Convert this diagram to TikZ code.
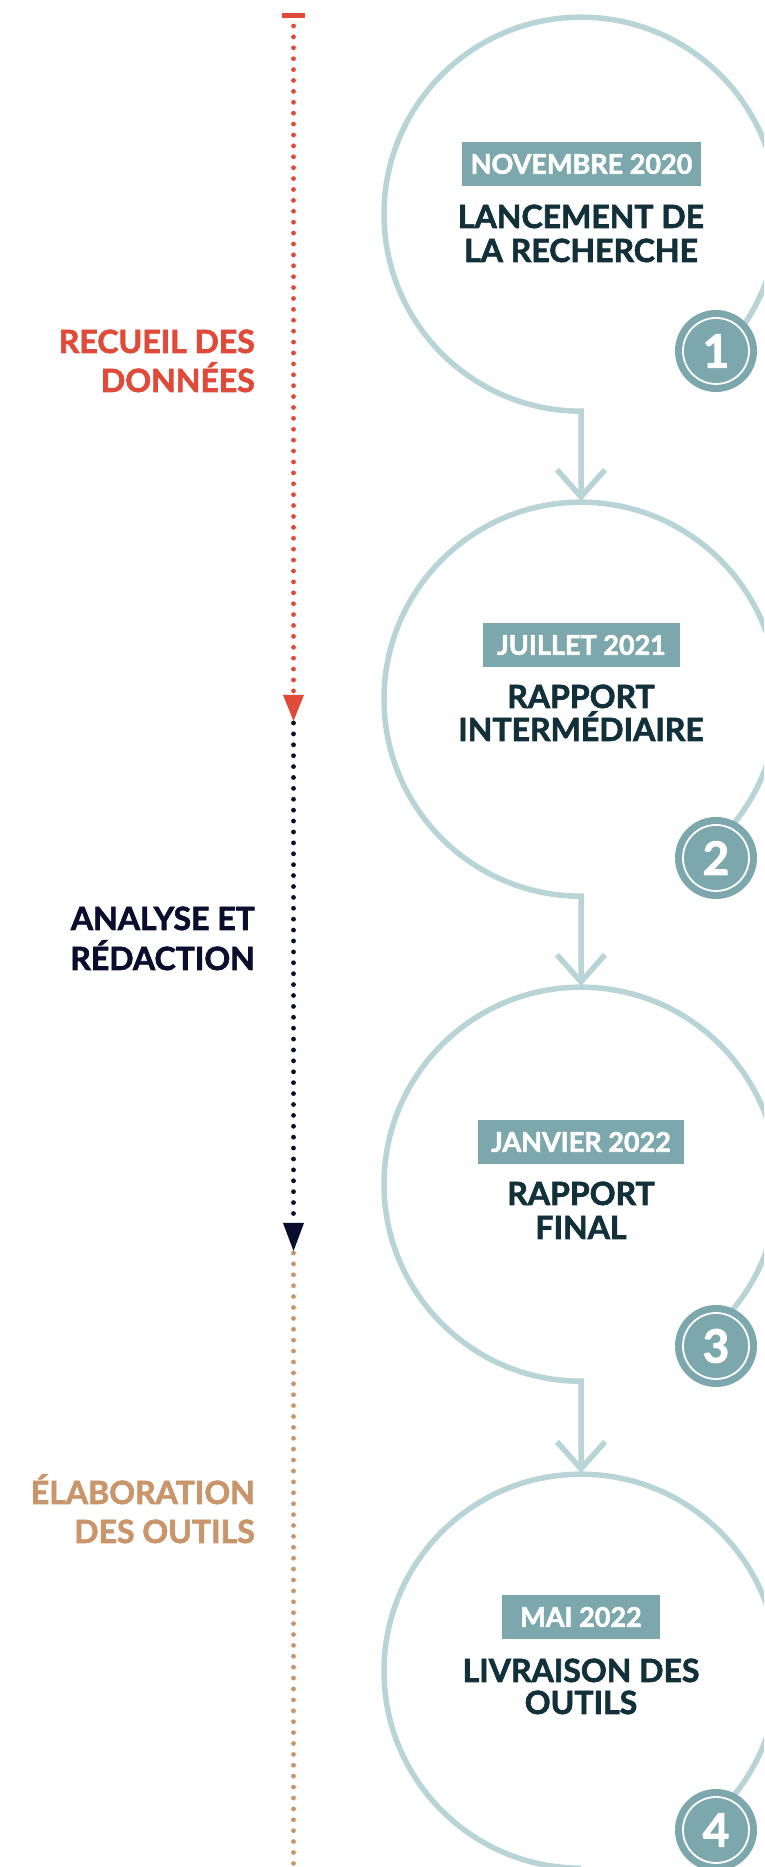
\documentclass[tikz,border=0pt]{standalone}
\usepackage{fontspec}
\setmainfont{Lato}[BoldFeatures={FakeBold=2}]
\usetikzlibrary{calc}
\definecolor{ringc}{HTML}{B8D4D7}
\definecolor{tealc}{HTML}{7CA8AD}
\definecolor{darkc}{HTML}{12303A}
\definecolor{redc}{HTML}{E04A38}
\definecolor{navyc}{HTML}{0A0E2E}
\definecolor{tanc}{HTML}{C9956A}
\tikzset{
  ringline/.style={draw=ringc, line width=5.5pt, line join=miter},
  bigc/.style={circle, minimum size=394pt, inner sep=0pt, draw=none},
  datebox/.style={fill=tealc, text=white, inner sep=0pt, minimum height=44pt,
    font=\bfseries\fontsize{27}{27}\selectfont},
  titletxt/.style={text=darkc, inner sep=0pt, anchor=base,
    font=\bfseries\fontsize{32}{32}\selectfont},
  badge/.style={circle, fill=tealc, minimum size=82pt, inner sep=0pt, text=white,
    font=\bfseries\fontsize{46}{46}\selectfont},
  badgering/.style={draw=white, line width=1.8pt},
  phase/.style={inner sep=0pt, anchor=base east, font=\bfseries\fontsize{32}{32}\selectfont},
  dots/.style={line width=4.8pt, line cap=round, dash pattern=on 0pt off 10.9pt},
}
\begin{document}
\begin{tikzpicture}[x=1pt,y=1pt]
\useasboundingbox (0,0) rectangle (764,1867);
\fill[white] (0,0) rectangle (764,1867);
\clip (0,0) rectangle (764,1867);

% circle anchors
\node[bigc] (c1) at (581,1653) {};
\node[bigc] (c2) at (581,1168) {};
\node[bigc] (c3) at (581,683) {};
\node[bigc] (c4) at (581,196) {};
\coordinate (tip2) at ($(c2.north)+(0,5)$);
\coordinate (tip3) at ($(c3.north)+(0,5)$);
\coordinate (tip4) at ($(c4.north)+(0,5)$);

% rings with stems
\draw[ringline] (tip2) -- (c1.south) arc[start angle=270, end angle=-45.4, radius=197];
\draw[ringline] (tip3) -- (c2.south) arc[start angle=270, end angle=-49.7, radius=197];
\draw[ringline] (tip4) -- (c3.south) arc[start angle=270, end angle=-50.2, radius=197];
\draw[ringline] (c4.south) arc[start angle=270, end angle=-49.7, radius=197];
% open arrow heads
\foreach \t in {tip2,tip3,tip4}{
  \draw[ringline] ($(\t)+(-24,27)$) -- (\t) -- ($(\t)+(24,27)$);
}

% badges
\node[badge] (b1) at (716,1516) {1};
\node[badge] (b2) at (716,1009) {2};
\node[badge] (b3) at (716,521) {3};
\node[badge] (b4) at (716,37) {4};
\foreach \b in {b1,b2,b3,b4}{
  \draw[badgering] (\b.center) circle[radius=33];
}

% dates
\node[datebox, minimum width=239pt] (d1) at (581.5,1703) {NOVEMBRE 2020};
\node[datebox, minimum width=197pt] (d2) at (581.5,1222) {JUILLET 2021};
\node[datebox, minimum width=206pt] (d3) at (581,725) {JANVIER 2022};
\node[datebox, minimum width=158pt] (d4) at (581,250) {MAI 2022};

% titles
\node[titletxt] (t1a) at (581,1639) {LANCEMENT DE};
\node[titletxt] (t1b) at (581,1605) {LA RECHERCHE};
\node[titletxt] (t2a) at (581,1159) {RAPPORT};
\node[titletxt] (t2b) at (581,1126) {INTERMÉDIAIRE};
\node[titletxt] (t3a) at (581,662) {RAPPORT};
\node[titletxt] (t3b) at (581,628) {FINAL};
\node[titletxt] (t4a) at (581,185) {LIVRAISON DES};
\node[titletxt] (t4b) at (581,153) {OUTILS};

% timeline
\coordinate (r0) at (293.5,1841);
\coordinate (r1) at (293.5,1175);
\coordinate (n0) at (293.5,1144);
\coordinate (n1) at (293.5,647);
\coordinate (o0) at (293.5,614);
\coordinate (o1) at (293.5,0);
\fill[redc] (282,1849) rectangle (305,1854);
\draw[redc, dots] (r0) -- (r1);
\fill[redc] (283,1172) -- (304,1172) -- (293.5,1146) -- cycle;
\draw[navyc, dots] (n0) -- (n1);
\fill[navyc] (283,644) -- (304,644) -- (293.5,616) -- cycle;
\draw[tanc, dots] (o0) -- (o1);

% phase labels
\node[phase, text=redc] (p1a) at (255,1514) {RECUEIL DES};
\node[phase, text=redc] (p1b) at (255,1475) {DONNÉES};
\node[phase, text=navyc] (p2a) at (255,937) {ANALYSE ET};
\node[phase, text=navyc] (p2b) at (255,897) {RÉDACTION};
\node[phase, text=tanc] (p3a) at (255,363) {ÉLABORATION};
\node[phase, text=tanc] (p3b) at (255,324) {DES OUTILS};
\end{tikzpicture}
\end{document}
